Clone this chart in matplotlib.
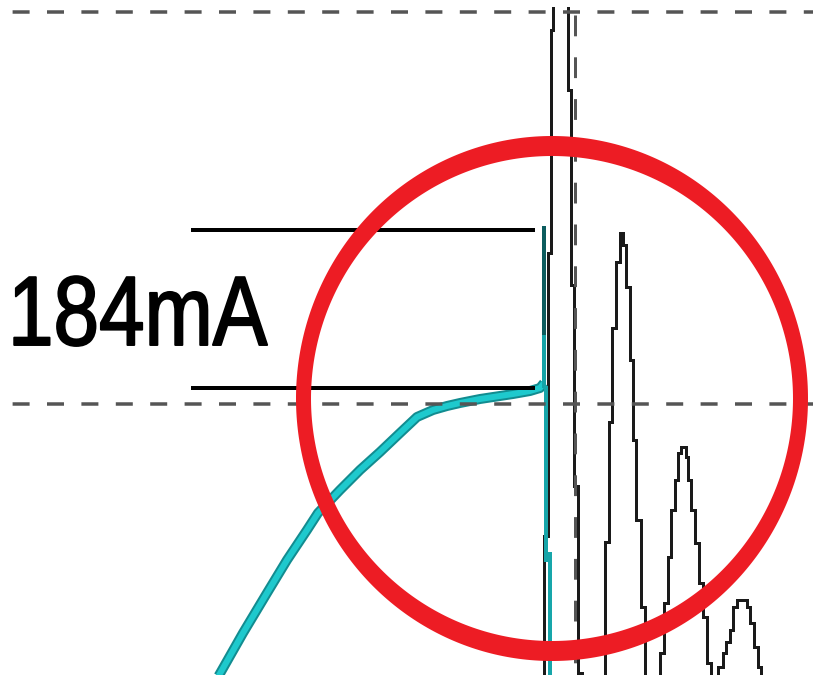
import numpy as np
import matplotlib
matplotlib.use('Agg')
import matplotlib.pyplot as plt
from matplotlib.path import Path
from matplotlib.patches import PathPatch
from matplotlib.patheffects import AbstractPathEffect
from matplotlib.transforms import Affine2D

# screen units: x = time (px of the scope screen), y = level (px, downward)
# black trace (steps-post samples)
black_t = [0, 544, 548, 551, 553, 568, 571, 574, 578, 582,
           605, 609, 612, 616, 620, 623, 626, 630, 633, 636, 641, 645,
           660, 664, 668, 671, 675, 678, 681, 686, 688, 691, 695, 699, 703, 707, 711,
           718, 723, 726, 730, 733, 737, 747, 750, 754, 758, 761, 813]
black_v = [690, 536, 253, 30, -40, 90, 285, 486, 673, 690,
           542, 422, 328, 262, 233, 245, 287, 360, 440, 520, 607, 690,
           653, 603, 557, 510, 480, 453, 447, 457, 480, 510, 543, 583, 617, 663, 690,
           667, 653, 642, 630, 607, 600, 607, 623, 647, 667, 690, 690]

# cyan (current) trace
cyan_t = [214, 222, 243, 267, 287, 307, 318, 340, 360, 380, 400, 417,
          433, 447, 460, 480, 513, 530, 540, 544]
cyan_v = [684, 670, 633, 593, 560, 530, 513, 490, 470, 452, 433, 417,
          410, 406, 403, 399, 394, 391, 388, 383]
# vertical spike of the cyan trace
spike_t = [544, 544, 545.5, 549.5]
spike_top = [333, 228, 560, 690]
spike_bot = [386, 333, 388, 554]
spike_col = ['#14a3a7', '#0c5c5e', '#16a5a9', '#17a6aa']

# reference levels / markers
grid_levels = [12, 404]
cursor_t = 574.5
marker_levels = [230, 388]
marker_span = [191, 535]
label = "184mA"

# red circle (outer / inner ring)
circ_c = (552, 398.5)
circ_outer = (256, 262.5)
circ_inner = (241, 242.5)

PX = 0.72  # one pixel in points at dpi 100
plt.rcParams['lines.scale_dashes'] = False


class Squeeze(AbstractPathEffect):
    # narrow the glyphs horizontally about x0 (the label looks like Arial Narrow)
    def __init__(self, sx, x0, lw):
        super().__init__()
        self.sx, self.x0, self.lw = sx, x0, lw

    def draw_path(self, renderer, gc, tpath, affine, rgbFace=None):
        aff = affine + Affine2D().translate(-self.x0, 0).scale(self.sx, 1).translate(self.x0, 0)
        gc0 = renderer.new_gc()
        gc0.copy_properties(gc)
        gc0.set_linewidth(self.lw)
        gc0.set_foreground(rgbFace)
        renderer.draw_path(gc0, tpath, aff, rgbFace)
        gc0.restore()


fig = plt.figure(figsize=(8.13, 6.75), dpi=100)
ax = fig.add_axes([0, 0, 1, (675 - 7) / 675])
ax.set_xlim(0, 813)
ax.set_ylim(675, 7)
ax.axis('off')

ax.plot(black_t, black_v, drawstyle='steps-post', color='#1a1a1a', lw=3 * PX,
        solid_joinstyle='miter', zorder=2)

ax.plot(cyan_t, cyan_v, color='#128c90', lw=10 * PX, solid_capstyle='butt', zorder=3)
ax.plot(cyan_t, cyan_v, color='#1ec9cd', lw=6 * PX, solid_capstyle='butt', zorder=3)
for t, a, b, c in zip(spike_t, spike_top, spike_bot, spike_col):
    ax.plot([t, t], [b, a], color=c, lw=4 * PX, solid_capstyle='projecting', zorder=3)

for lv in grid_levels:
    ax.plot([0, 813], [lv, lv], color='#555555', lw=3.5 * PX, dash_capstyle='butt',
            linestyle=(21.8 * PX, (17 * PX, 17.4 * PX)), zorder=4)
ax.plot([cursor_t, cursor_t], [0, 675], color='#555555', lw=3 * PX, dash_capstyle='butt',
        linestyle=(26.8 * PX, (20.8 * PX, 21 * PX)), zorder=4)

for lv in marker_levels:
    ax.plot(marker_span, [lv, lv], color='black', lw=4 * PX, solid_capstyle='butt', zorder=5)

th = np.linspace(0, 2 * np.pi, 400)
outer = np.column_stack([circ_c[0] + circ_outer[0] * np.cos(th), circ_c[1] + circ_outer[1] * np.sin(th)])
inner = np.column_stack([circ_c[0] + circ_inner[0] * np.cos(th[::-1]), circ_c[1] + circ_inner[1] * np.sin(th[::-1])])
verts = np.vstack([outer, inner])
codes = np.full(len(verts), Path.LINETO)
codes[0] = Path.MOVETO
codes[len(outer)] = Path.MOVETO
ax.add_patch(PathPatch(Path(verts, codes), facecolor='#ed1c24', edgecolor='none', zorder=6))

tx, ty = 8, 345
x0 = ax.transData.transform((tx, ty))[0]
ax.text(tx, ty, label, family='Liberation Sans', fontsize=71, color='black',
        ha='left', va='baseline', zorder=7, clip_on=False,
        path_effects=[Squeeze(0.83, x0, 1.4)])

fig.savefig('out.png', dpi=100)
